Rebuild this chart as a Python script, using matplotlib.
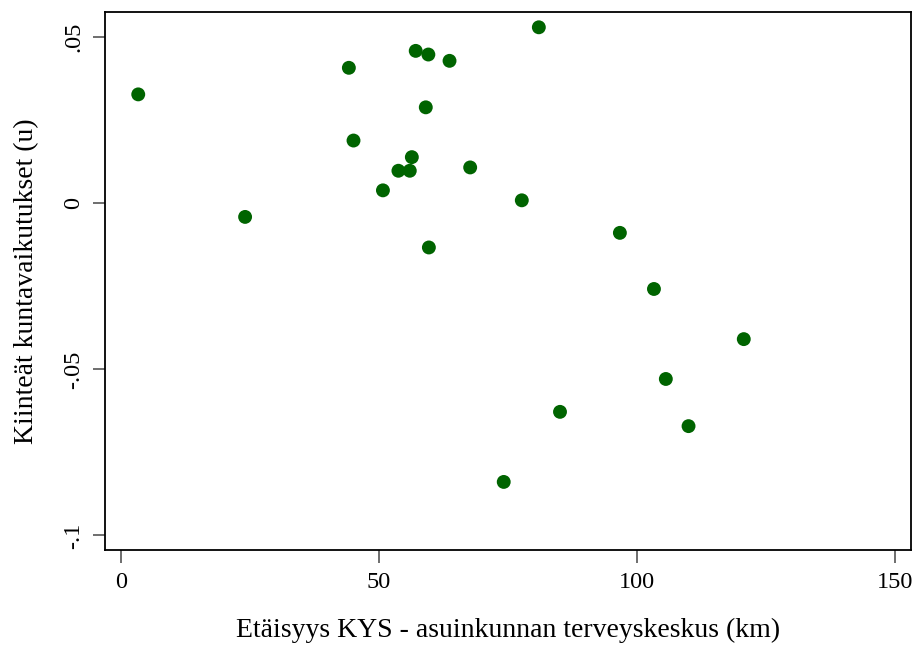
"""
Scatter: fixed municipality effects vs. distance KYS - home municipality health centre.
Stata-like look, matplotlib only.
"""

import matplotlib

matplotlib.use("Agg")
import matplotlib.pyplot as plt

# distance (km) and fixed municipality effect (u)
distance_km = [3.4, 24.1, 44.2, 45.1, 50.8, 53.8, 56.0, 56.4, 57.15, 59.6, 59.1,
               59.7, 63.7, 67.7, 77.7, 81.0, 74.2, 85.1, 96.7, 103.3, 105.6,
               110.0, 120.7]
effect_u = [0.0328, -0.0041, 0.0408, 0.0189, 0.0039, 0.0098, 0.0098, 0.0139,
            0.0459, 0.0448, 0.0289, -0.0133, 0.0429, 0.0108, 0.0009, 0.0530,
            -0.0839, -0.0628, -0.0089, -0.0258, -0.0529, -0.0671, -0.0409]

x_ticks = [0, 50, 100, 150]
y_ticks = [-0.1, -0.05, 0, 0.05]
y_tick_labels = ["-.1", "-.05", "0", ".05"]

plt.rcParams["font.family"] = ["Liberation Serif", "DejaVu Serif"]

fig = plt.figure(figsize=(9.17, 6.46), dpi=100)
ax = fig.add_axes([0.1145, 0.1486, 0.879, 0.8328])

ax.scatter(distance_km, effect_u, s=100, color="#006400", edgecolors="none", zorder=3)

ax.set_xlim(-3.04, 153.1)
ax.set_ylim(-0.1044, 0.0576)
ax.set_xticks(x_ticks)
ax.set_xticklabels([str(t) for t in x_ticks])
ax.set_yticks(y_ticks)
ax.set_yticklabels(y_tick_labels, rotation=90, va="center")

ax.tick_params(axis="both", direction="out", length=9, width=1.2, color="#555555",
               labelsize=17.5)
ax.tick_params(axis="x", pad=7)
ax.tick_params(axis="y", pad=6)
for spine in ax.spines.values():
    spine.set_linewidth(1.3)
    spine.set_color("black")

ax.set_xlabel("Etäisyys KYS - asuinkunnan terveyskeskus (km)", fontsize=20, labelpad=18)
ax.set_ylabel("Kiinteät kuntavaikutukset (u)", fontsize=20, labelpad=17)

fig.savefig("out.png", dpi=100)
